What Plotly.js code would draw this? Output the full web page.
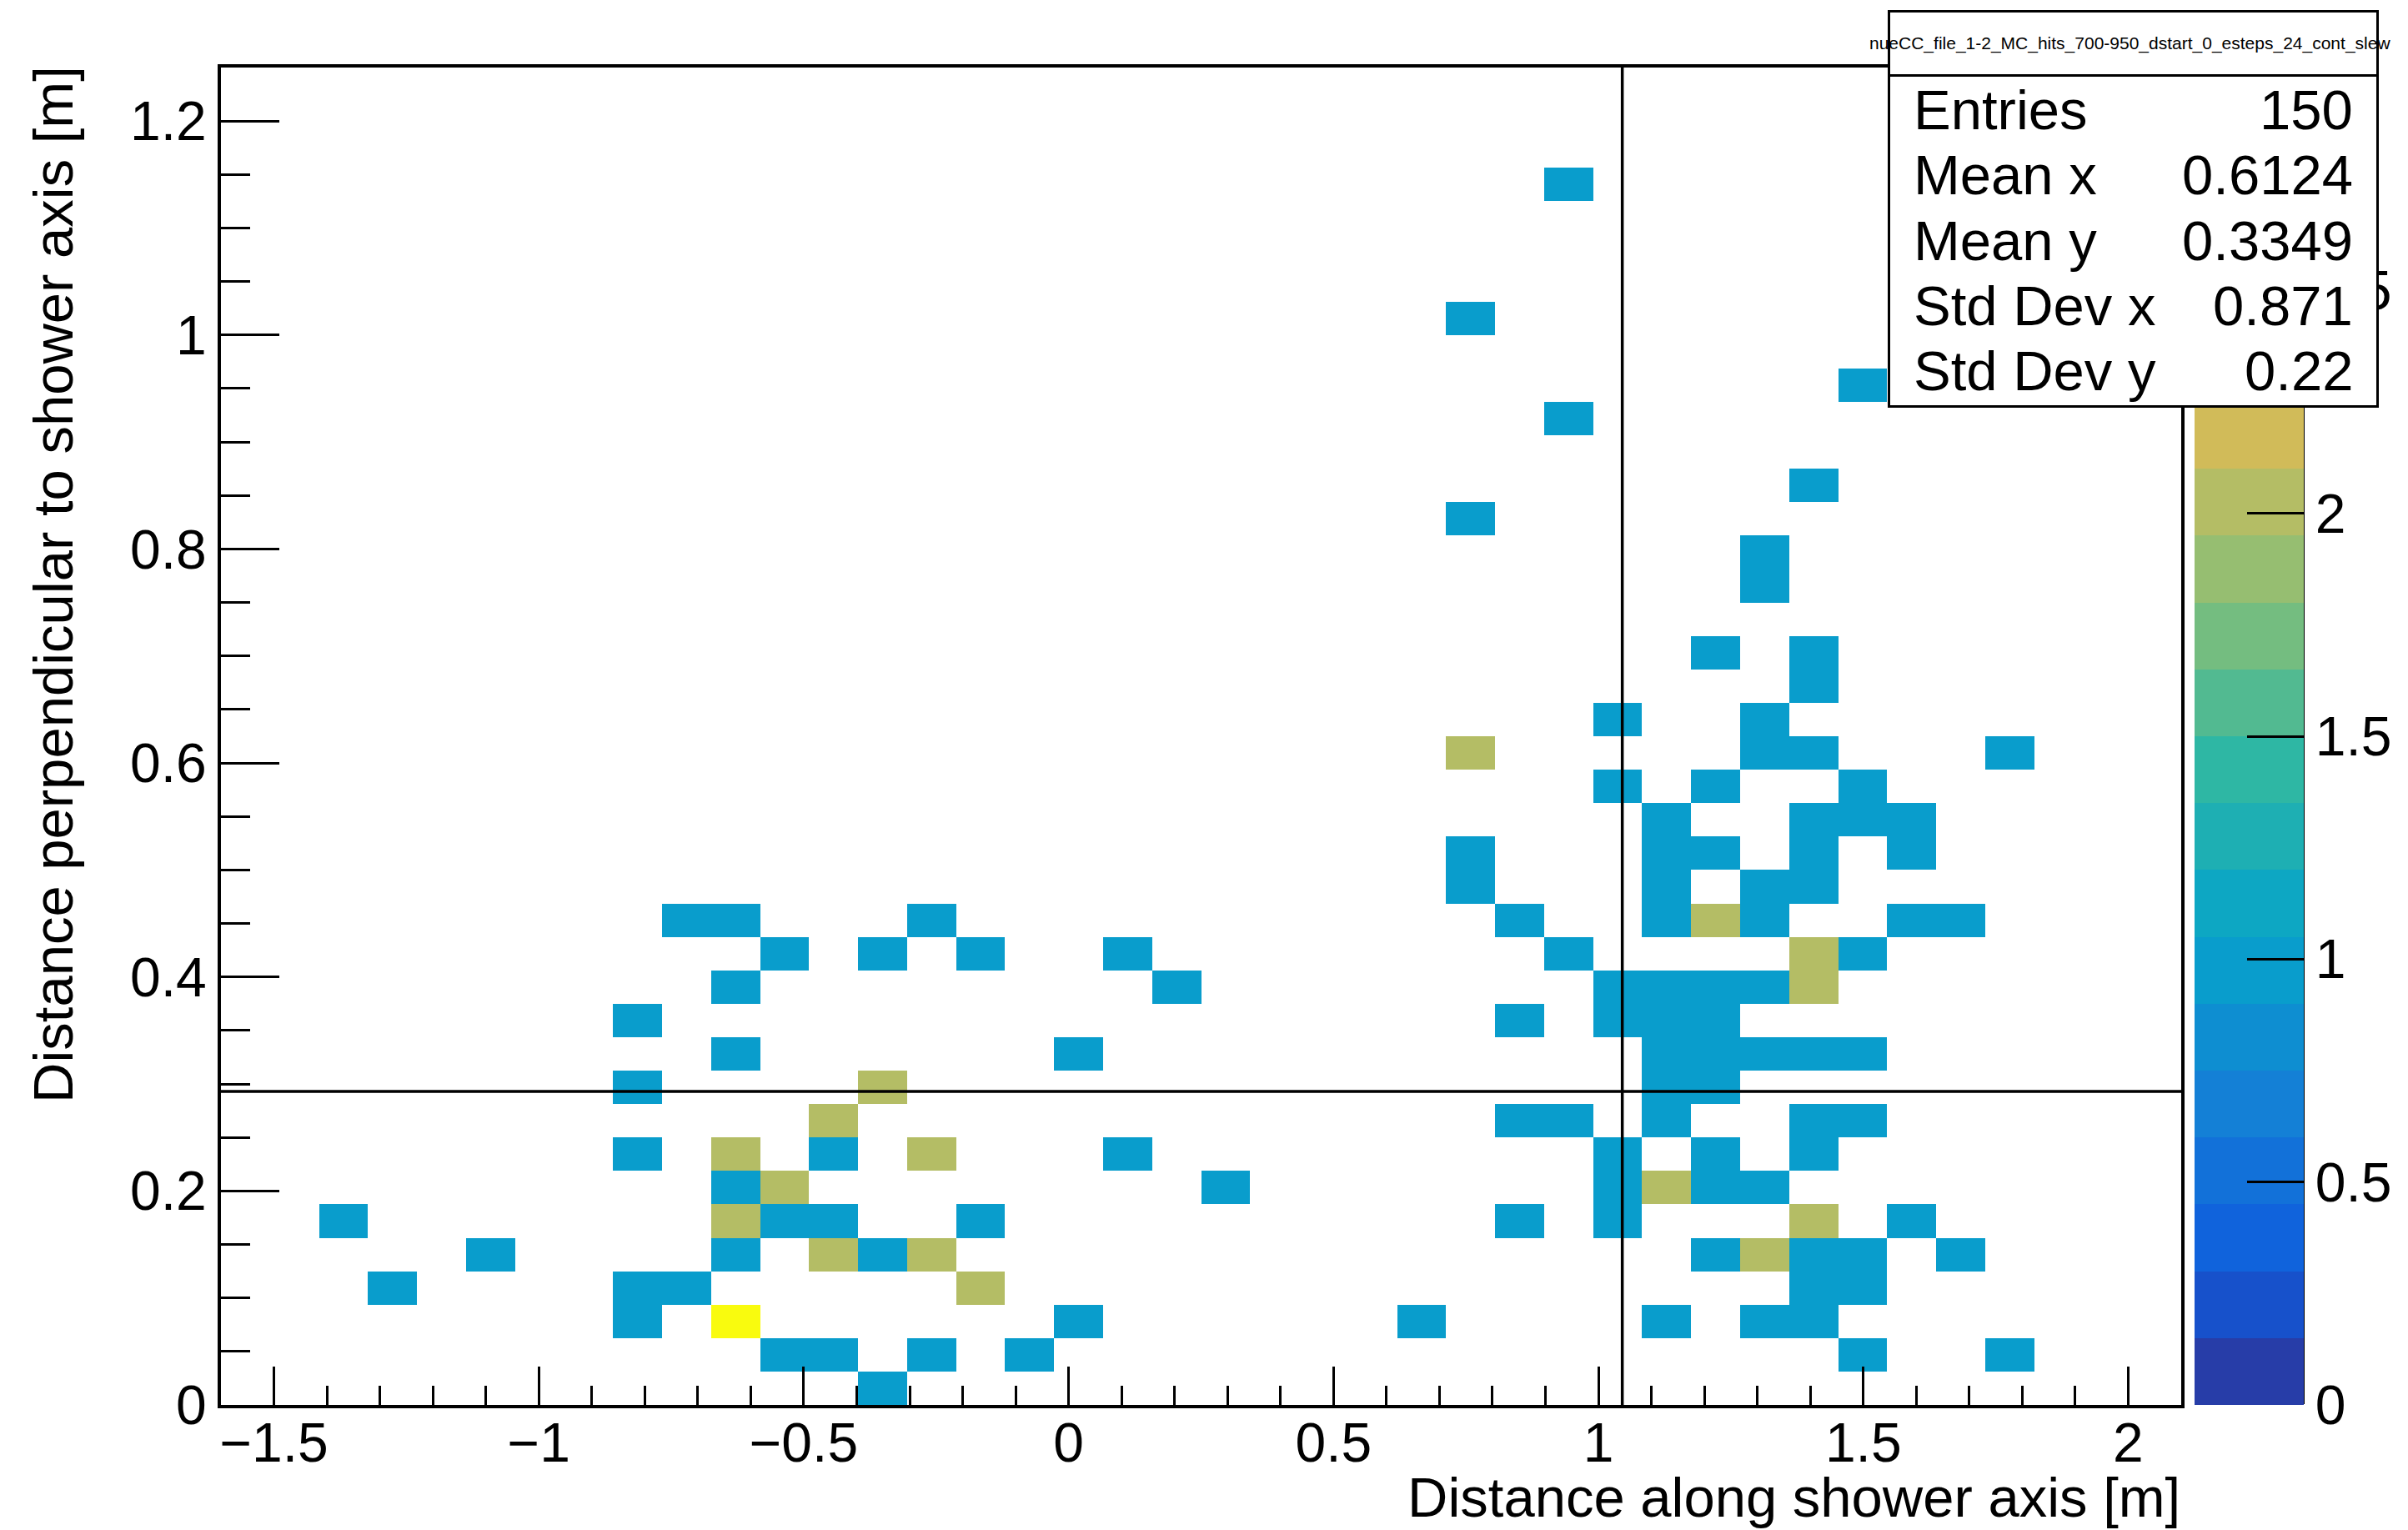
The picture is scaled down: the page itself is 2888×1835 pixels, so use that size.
<!DOCTYPE html>
<html><head><meta charset="utf-8">
<script src="https://cdn.plot.ly/plotly-3.0.1.min.js"></script>
<style>html,body{margin:0;padding:0;background:#fff}#chart{width:2888px;height:1835px}</style>
</head><body><div id="chart"></div>
<script>
// ---- histogram binning ----
const xMin = -1.6, xMax = 2.1, nBinsX = 40;
const yMin = 0, yMax = 1.25, nBinsY = 40;

// ---- filled cells (bin centres in m) and their entries, row by row ----
const cellX = [
  -0.351,
  -0.536, -0.444, -0.259, -0.074, 1.499, 1.776,
  -0.814, -0.629, 0.019, 0.666, 1.129, 1.314, 1.406,
  -1.276, -0.814, -0.721, -0.166, 1.406, 1.499,
  -1.091, -0.629, -0.444, -0.351, -0.259, 1.221, 1.314, 1.406, 1.499, 1.684,
  -1.369, -0.629, -0.536, -0.444, -0.166, 0.851, 1.036, 1.406, 1.591,
  -0.629, -0.536, 0.296, 1.036, 1.129, 1.221, 1.314,
  -0.814, -0.629, -0.444, -0.259, 0.111, 1.036, 1.221, 1.406,
  -0.444, 0.851, 0.944, 1.129, 1.406, 1.499,
  -0.814, -0.351, 1.129, 1.221,
  -0.629, 0.019, 1.129, 1.221, 1.314, 1.406, 1.499,
  -0.814, 0.851, 1.036, 1.129, 1.221,
  -0.629, 0.204, 1.036, 1.129, 1.221, 1.314, 1.406,
  -0.536, -0.351, -0.166, 0.111, 0.944, 1.406, 1.499,
  -0.721, -0.629, -0.259, 0.851, 1.129, 1.221, 1.314, 1.591, 1.684,
  0.759, 1.129, 1.314, 1.406,
  0.759, 1.129, 1.221, 1.406, 1.591,
  1.129, 1.406, 1.499, 1.591,
  1.036, 1.221, 1.499,
  0.759, 1.314, 1.406, 1.776,
  1.036, 1.314,
  1.406,
  1.221, 1.406,
  1.314,
  1.314,
  0.759,
  1.406,
  0.944,
  1.499,
  0.759,
  0.944
];
const cellY = [
  0.016,
  0.047, 0.047, 0.047, 0.047, 0.047, 0.047,
  0.078, 0.078, 0.078, 0.078, 0.078, 0.078, 0.078,
  0.109, 0.109, 0.109, 0.109, 0.109, 0.109,
  0.141, 0.141, 0.141, 0.141, 0.141, 0.141, 0.141, 0.141, 0.141, 0.141,
  0.172, 0.172, 0.172, 0.172, 0.172, 0.172, 0.172, 0.172, 0.172,
  0.203, 0.203, 0.203, 0.203, 0.203, 0.203, 0.203,
  0.234, 0.234, 0.234, 0.234, 0.234, 0.234, 0.234, 0.234,
  0.266, 0.266, 0.266, 0.266, 0.266, 0.266,
  0.297, 0.297, 0.297, 0.297,
  0.328, 0.328, 0.328, 0.328, 0.328, 0.328, 0.328,
  0.359, 0.359, 0.359, 0.359, 0.359,
  0.391, 0.391, 0.391, 0.391, 0.391, 0.391, 0.391,
  0.422, 0.422, 0.422, 0.422, 0.422, 0.422, 0.422,
  0.453, 0.453, 0.453, 0.453, 0.453, 0.453, 0.453, 0.453, 0.453,
  0.484, 0.484, 0.484, 0.484,
  0.516, 0.516, 0.516, 0.516, 0.516,
  0.547, 0.547, 0.547, 0.547,
  0.578, 0.578, 0.578,
  0.609, 0.609, 0.609, 0.609,
  0.641, 0.641,
  0.672,
  0.703, 0.703,
  0.766,
  0.797,
  0.828,
  0.859,
  0.922,
  0.953,
  1.016,
  1.141
];
const cellN = [
  1,
  1, 1, 1, 1, 1, 1,
  1, 3, 1, 1, 1, 1, 1,
  1, 1, 1, 2, 1, 1,
  1, 1, 2, 1, 2, 1, 2, 1, 1, 1,
  1, 2, 1, 1, 1, 1, 1, 2, 1,
  1, 2, 1, 1, 2, 1, 1,
  1, 2, 1, 2, 1, 1, 1, 1,
  2, 1, 1, 1, 1, 1,
  1, 2, 1, 1,
  1, 1, 1, 1, 1, 1, 1,
  1, 1, 1, 1, 1,
  1, 1, 1, 1, 1, 1, 2,
  1, 1, 1, 1, 1, 2, 1,
  1, 1, 1, 1, 1, 2, 1, 1, 1,
  1, 1, 1, 1,
  1, 1, 1, 1, 1,
  1, 1, 1, 1,
  1, 1, 1,
  2, 1, 1, 1,
  1, 1,
  1,
  1, 1,
  1,
  1,
  1,
  1,
  1,
  1,
  1,
  1
];

// ---- axes / labels ----
const xTickVals = [-1.5, -1, -0.5, 0, 0.5, 1, 1.5, 2];
const xTickText = ["\u22121.5", "\u22121", "\u22120.5", "0", "0.5", "1", "1.5", "2"];
const yTickVals = [0, 0.2, 0.4, 0.6, 0.8, 1, 1.2];
const yTickText = ["0", "0.2", "0.4", "0.6", "0.8", "1", "1.2"];
const zTickVals = [0, 0.5, 1, 1.5, 2, 2.5];
const zTickText = ["0", "0.5", "1", "1.5", "2", "2.5"];
const zMin = 0, zMax = 3, nContours = 20;
const crossX = 1.045, crossY = 0.293;
const xTitle = "Distance along shower axis [m]";
const yTitle = "Distance perpendicular to shower axis [m]";
const histName = "nueCC_file_1-2_MC_hits_700-950_dstart_0_esteps_24_cont_slew";
const statLabels = ["Entries", "Mean x", "Mean y", "Std Dev x", "Std Dev y"];
const statValues = ["150", "0.6124", "0.3349", "0.871", "0.22"];

// ---- ROOT kBird palette ----
const birdStops = [0, 0.125, 0.25, 0.375, 0.5, 0.625, 0.75, 0.875, 1];
const birdR = [0.2082, 0.0592, 0.0780, 0.0232, 0.1802, 0.5301, 0.8186, 0.9956, 0.9764];
const birdG = [0.1664, 0.3599, 0.5041, 0.6419, 0.7178, 0.7492, 0.7328, 0.7862, 0.9832];
const birdB = [0.5293, 0.8684, 0.8385, 0.7914, 0.6425, 0.4662, 0.3499, 0.1968, 0.0539];
function bird(f) {
  let s = 0;
  while (s < birdStops.length - 2 && f > birdStops[s + 1]) s++;
  const t = (f - birdStops[s]) / (birdStops[s + 1] - birdStops[s]);
  const c = a => Math.round(255 * (a[s] + (a[s + 1] - a[s]) * t));
  return 'rgb(' + c(birdR) + ',' + c(birdG) + ',' + c(birdB) + ')';
}
const colorscale = [];
for (let i = 0; i < nContours; i++) {
  const idx = Math.floor((i + 0.99) * 255 / nContours);
  const col = bird(idx / 254);
  colorscale.push([i / nContours, col]);
  colorscale.push([(i + 1) / nContours, col]);
}

// ---- build histogram matrix ----
const dx = (xMax - xMin) / nBinsX, dy = (yMax - yMin) / nBinsY;
const z = Array.from({length: nBinsY}, () => Array(nBinsX).fill(null));
cellX.forEach((x, i) => {
  const kx = Math.floor((x - xMin) / dx);
  const ky = Math.floor((cellY[i] - yMin) / dy);
  z[ky][kx] = (z[ky][kx] || 0) + cellN[i];
});

// ---- page geometry (pixels) ----
const W = 2888, H = 1835;
const L = 265, R = 2616, T = 81, B = 1685;
const px = p => (p - L) / (R - L);
const py = p => (B - p) / (B - T);
const FONT = 'Liberation Sans, Arial, Helvetica, sans-serif';

const trace = {
  type: 'heatmap', z: z,
  x0: xMin + dx / 2, dx: dx, y0: yMin + dy / 2, dy: dy,
  zmin: zMin, zmax: zMax, colorscale: colorscale, zsmooth: false,
  hoverinfo: 'skip',
  colorbar: {
    x: px(2632), xanchor: 'left', xpad: 0, xref: 'paper',
    y: 0.5, yanchor: 'middle', ypad: 0, len: 1, lenmode: 'fraction',
    thickness: 131, thicknessmode: 'pixels',
    outlinewidth: 0, borderwidth: 0,
    tickmode: 'array', tickvals: zTickVals, ticktext: zTickText,
    ticks: 'inside', ticklen: 68, tickwidth: 3, tickcolor: '#000',
    tickfont: {family: FONT, size: 66, color: '#000'}
  }
};

const annotations = [
  {xref: 'paper', yref: 'paper', x: 1, y: py(1795), xanchor: 'right', yanchor: 'middle',
   text: xTitle, showarrow: false, font: {family: FONT, size: 67, color: '#000'}, borderpad: 0},
  {xref: 'paper', yref: 'paper', x: px(63), y: py(78), xanchor: 'center', yanchor: 'top', textangle: -90,
   text: yTitle, showarrow: false, font: {family: FONT, size: 67, color: '#000'}, borderpad: 0},
  // colorbar right edge line
  {xref: 'paper', yref: 'paper', x: px(2763), y: 0.5, xanchor: 'center', yanchor: 'middle',
   text: ' ', showarrow: false, width: 1, height: B - T - 2, bgcolor: '#000', borderpad: 0, borderwidth: 0},
  // stats box
  {xref: 'paper', yref: 'paper', x: px(2558.5), y: py(250.3), xanchor: 'center', yanchor: 'middle',
   text: ' ', showarrow: false, width: 583, height: 471, bgcolor: '#fff', bordercolor: '#000',
   borderwidth: 3, borderpad: 0},
  {xref: 'paper', yref: 'paper', x: px(2558.5), y: py(51.5), xanchor: 'center', yanchor: 'middle',
   text: ' ', showarrow: false, width: 583, height: 74, bgcolor: '#fff', bordercolor: '#000',
   borderwidth: 3, borderpad: 0},
  {xref: 'paper', yref: 'paper', x: px(2554), y: py(51.5), xanchor: 'center', yanchor: 'middle',
   text: histName, showarrow: false, font: {family: FONT, size: 21, color: '#000'}, borderpad: 0}
];
const baselines = [154, 232.5, 311, 389.5, 468];
statLabels.forEach((lab, i) => {
  annotations.push({xref: 'paper', yref: 'paper', x: px(2294), y: py(baselines[i] - 23),
    xanchor: 'left', yanchor: 'middle', text: lab, showarrow: false, borderpad: 0,
    font: {family: FONT, size: 67, color: '#000'}});
  annotations.push({xref: 'paper', yref: 'paper', x: px(2823), y: py(baselines[i] - 23),
    xanchor: 'right', yanchor: 'middle', text: statValues[i], showarrow: false, borderpad: 0,
    font: {family: FONT, size: 67, color: '#000'}});
});

const axisCommon = {
  showgrid: false, zeroline: false, showline: true, mirror: true,
  linecolor: '#000', linewidth: 4,
  ticks: 'inside', tickcolor: '#000', tickwidth: 3,
  tickfont: {family: FONT, size: 66, color: '#000'},
  tickmode: 'array', fixedrange: true
};

const layout = {
  width: W, height: H,
  margin: {l: L, r: W - R, t: T, b: H - B, autoexpand: false},
  paper_bgcolor: '#fff', plot_bgcolor: '#fff',
  showlegend: false,
  xaxis: Object.assign({}, axisCommon, {
    range: [xMin, xMax], tickvals: xTickVals, ticktext: xTickText, ticklen: 46,
    ticklabelstandoff: -15,
    minor: {tickmode: 'linear', tick0: 0, dtick: 0.1, ticks: 'inside', ticklen: 23, tickwidth: 3, tickcolor: '#000'}
  }),
  yaxis: Object.assign({}, axisCommon, {
    range: [yMin, yMax], tickvals: yTickVals, ticktext: yTickText, ticklen: 70,
    minor: {tickmode: 'linear', tick0: 0, dtick: 0.05, ticks: 'inside', ticklen: 35, tickwidth: 3, tickcolor: '#000'}
  }),
  shapes: [
    {type: 'line', layer: 'above', xref: 'x', yref: 'paper', x0: crossX, x1: crossX, y0: 0, y1: 1,
     line: {color: '#000', width: 3.5}},
    {type: 'line', layer: 'above', xref: 'paper', yref: 'y', x0: 0, x1: 1, y0: crossY, y1: crossY,
     line: {color: '#000', width: 3.5}}
  ],
  annotations: annotations
};

Plotly.newPlot('chart', [trace], layout, {staticPlot: true, displayModeBar: false});
</script>
</body></html>
